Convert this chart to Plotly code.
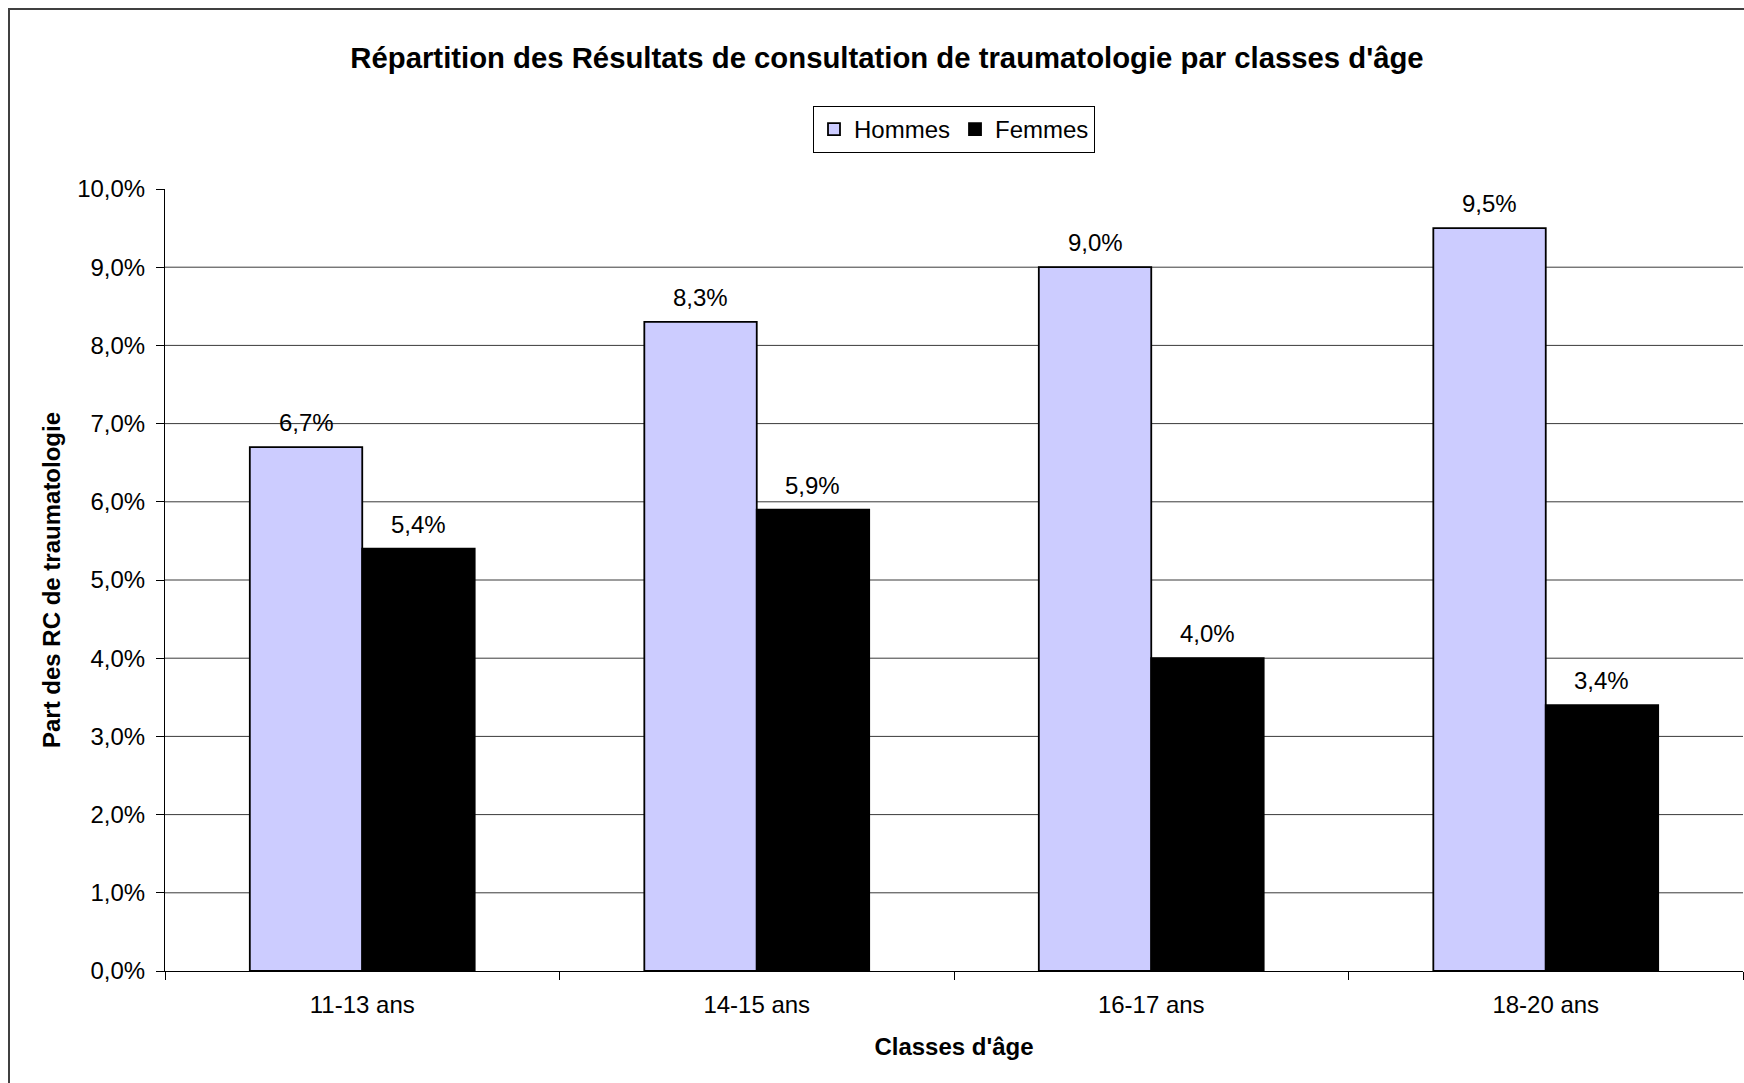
import plotly.graph_objects as go

categories = ["11-13 ans", "14-15 ans", "16-17 ans", "18-20 ans"]
hommes = [6.7, 8.3, 9.0, 9.5]
femmes = [5.4, 5.9, 4.0, 3.4]
y_ticks = [0, 1, 2, 3, 4, 5, 6, 7, 8, 9, 10]
y_ticktext = ["0,0%", "1,0%", "2,0%", "3,0%", "4,0%", "5,0%", "6,0%", "7,0%", "8,0%", "9,0%", "10,0%"]

FONT = "Liberation Sans, Arial, sans-serif"
W, H = 1744, 1083
ML, MR, MT, MB = 165, 1, 189, 112
BARGAP = 0.43

fig = go.Figure()
fig.add_trace(go.Bar(name="Hommes", x=categories, y=hommes,
                     marker=dict(color="#CCCCFF", line=dict(color="#000000", width=1.8))))
fig.add_trace(go.Bar(name="Femmes", x=categories, y=femmes,
                     marker=dict(color="#000000", line=dict(color="#000000", width=1.8))))

# gridlines (all ticks except the top one, which is almost invisible in the original)
for v in y_ticks[1:-1]:
    fig.add_hline(y=v, line=dict(color="#3a3a3a", width=1), layer="below")

# data labels above bars
half = (1 - BARGAP) / 4
for series, sign in ((hommes, -1), (femmes, 1)):
    for i, v in enumerate(series):
        fig.add_annotation(x=i + sign * half, y=v, xref="x", yref="y",
                           text=f"{v:.1f}%".replace(".", ","), showarrow=False,
                           yanchor="bottom", xanchor="center", yshift=9,
                           font=dict(family=FONT, size=24, color="#000000"))

plot_w = W - ML - MR
plot_h = H - MT - MB
# outer chart frame (cropped on right and bottom in the original)
fig.add_shape(type="rect", xref="paper", yref="paper",
              x0=(9 - ML) / plot_w, x1=1.05, y0=-0.3, y1=(plot_h + MT - 9) / plot_h,
              line=dict(color="#404040", width=2), fillcolor="rgba(0,0,0,0)", layer="below")

fig.update_layout(
    width=W, height=H,
    margin=dict(l=ML, r=MR, t=MT, b=MB, autoexpand=False),
    paper_bgcolor="white", plot_bgcolor="white",
    font=dict(family=FONT, size=24, color="#000000"),
    barmode="group", bargap=BARGAP, bargroupgap=0,
    title=dict(text="<b>Répartition des Résultats de consultation de traumatologie par classes d'âge</b>",
               x=887 / W, xref="container", xanchor="center",
               y=1 - 58 / H, yref="container", yanchor="middle",
               font=dict(family=FONT, size=29.3, color="#000000")),
    legend=dict(orientation="h", x=0.5, xanchor="center", y=1 + 59.5 / plot_h, yanchor="middle",
                bordercolor="#000000", borderwidth=1, bgcolor="white",
                font=dict(family=FONT, size=24), itemwidth=30, tracegroupgap=0),
    showlegend=True,
)
fig.update_xaxes(
    showline=True, linecolor="#000000", linewidth=1,
    ticks="outside", tickson="boundaries", ticklen=8, tickcolor="#000000",
    tickfont=dict(family=FONT, size=24), ticklabelstandoff=12,
    title=dict(text="<b>Classes d'âge</b>", font=dict(family=FONT, size=24), standoff=21),
    showgrid=False,
)
fig.update_yaxes(
    range=[0, 10], tickvals=y_ticks, ticktext=y_ticktext,
    showline=True, linecolor="#000000", linewidth=1,
    ticks="outside", ticklen=8, tickcolor="#000000",
    tickfont=dict(family=FONT, size=24), ticklabelstandoff=6,
    title=dict(text="<b>Part des RC de traumatologie</b>", font=dict(family=FONT, size=24), standoff=9),
    showgrid=False, zeroline=False,
)

fig.write_html("out.html", config={"displayModeBar": False},
               post_script="document.body.style.margin='0px';document.body.style.overflow='hidden';")
